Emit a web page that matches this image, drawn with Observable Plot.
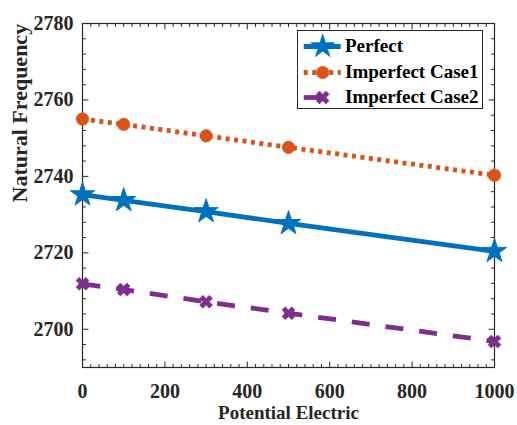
<!DOCTYPE html>
<html><head><meta charset="utf-8">
<script src="https://cdn.jsdelivr.net/npm/d3@7"></script>
<script src="https://cdn.jsdelivr.net/npm/@observablehq/plot@0.6"></script>
<style>
body{margin:0;background:#fff}
#wrap{position:relative;width:517px;height:425px;font-family:"Liberation Serif","Times New Roman",serif;font-weight:bold}
#legend{position:absolute;left:297px;top:30px;width:186px;height:79px;border:1px solid #262626;background:#fff;box-sizing:border-box}
#legend .row{position:absolute;left:0;height:26px;display:flex;align-items:center}
#legend .lab{position:absolute;left:47px;font-size:19px;color:#000;white-space:nowrap;line-height:26px}
</style></head><body><div id="wrap"><div id="legend"></div></div>
<script>
const potential = [0, 100, 300, 500, 1000];
const perfect = [2735.2, 2733.7, 2730.8, 2727.7, 2720.4];
const case1 = [2755.0, 2753.6, 2750.6, 2747.6, 2740.3];
const case2 = [2711.9, 2710.4, 2707.2, 2704.2, 2696.8];
const seriesNames = ["Perfect", "Imperfect Case1", "Imperfect Case2"];
const xTicks = [0, 200, 400, 600, 800, 1000];
const yTicks = [2700, 2720, 2740, 2760, 2780];
const xMinor = d3.range(0, 1001, 20).filter(v => !xTicks.includes(v));
const yMinor = d3.range(2692, 2781, 4).filter(v => !yTicks.includes(v));

const colors = ["#0072BD", "#D95319", "#7E2F8E"];
const seriesVals = [perfect, case1, case2];
const rows = [];
seriesVals.forEach((vals, s) => potential.forEach((x, i) => rows.push({series: seriesNames[s], x, y: vals[i]})));
const sel = name => rows.filter(r => r.series === name);

const tickShape = {draw(ctx, l) { ctx.moveTo(0, 0); ctx.lineTo(0, -l); }};
const tk = "#262626";
function ticks(vals, dim, len) {
  const out = [];
  const base = {anchor: "start", length: len, shape: tickShape, stroke: tk, strokeWidth: 1};
  if (dim === "x") {
    out.push(Plot.vector(vals, {...base, x: d => d, frameAnchor: "bottom", rotate: 0}));
    out.push(Plot.vector(vals, {...base, x: d => d, frameAnchor: "top", rotate: 180}));
  } else {
    out.push(Plot.vector(vals, {...base, y: d => d, frameAnchor: "left", rotate: 90}));
    out.push(Plot.vector(vals, {...base, y: d => d, frameAnchor: "right", rotate: -90}));
  }
  return out;
}
const lineStyle = {strokeWidth: 4.8, strokeLinecap: "butt", strokeLinejoin: "miter"};

const chart = Plot.plot({
  width: 517, height: 425,
  marginLeft: 82, marginRight: 23, marginTop: 23, marginBottom: 58,
  style: {fontFamily: "'Liberation Serif','Times New Roman',serif", fontWeight: "bold", background: "#fff", color: tk},
  x: {domain: [0, 1000]},
  y: {domain: [2690, 2780]},
  marks: [
    Plot.axisX(xTicks, {tickSize: 0, tickPadding: 16, fontSize: 20, label: null, tickFormat: d => String(d), fill: tk}),
    Plot.axisY(yTicks, {tickSize: 0, tickPadding: 9, fontSize: 20, label: null, tickFormat: d => String(d), fill: tk}),
    ...ticks(xTicks, "x", 5.5), ...ticks(xMinor, "x", 3),
    ...ticks(yTicks, "y", 5.5), ...ticks(yMinor, "y", 3),
    Plot.frame({stroke: tk, strokeWidth: 1.2}),
    Plot.text(["Potential Electric"], {frameAnchor: "bottom", dy: 51, fontSize: 19, fill: tk, text: d => d}),
    Plot.text(["Natural Frequency"], {frameAnchor: "left", dx: -63, dy: 7, rotate: -90, fontSize: 22, fill: tk, text: d => d}),
    Plot.line(sel(seriesNames[0]), {x: "x", y: "y", stroke: colors[0], ...lineStyle}),
    Plot.line(sel(seriesNames[1]), {x: "x", y: "y", stroke: colors[1], ...lineStyle, strokeDasharray: "4,4.5"}),
    Plot.line(sel(seriesNames[2]), {x: "x", y: "y", stroke: colors[2], ...lineStyle, strokeDasharray: "18,16"}),
    Plot.dot(sel(seriesNames[0]), {x: "x", y: "y", symbol: "star", r: 7.6, fill: colors[0], stroke: colors[0], strokeWidth: 1}),
    Plot.dot(sel(seriesNames[1]), {x: "x", y: "y", symbol: "circle", r: 6.3, fill: colors[1], stroke: colors[1], strokeWidth: 0.5}),
    Plot.dot(sel(seriesNames[2]), {x: "x", y: "y", symbol: "cross", rotate: 45, r: 5.8, fill: colors[2], stroke: colors[2], strokeWidth: 0.5})
  ]
});
const wrap = document.getElementById("wrap");
wrap.insertBefore(chart, wrap.firstChild);

// legend
const legend = document.getElementById("legend");
const symbols = ["star", "circle", "cross"];
const dashes = [null, "4,4.5", "22,15"];
const sizes = [7.6, 6.3, 5.8];
seriesNames.forEach((name, i) => {
  const top = 2 + i * 25.5;
  const sw = Plot.plot({
    width: 44, height: 26, margin: 0,
    x: {domain: [0, 1], axis: null}, y: {domain: [0, 1], axis: null},
    marks: [
      Plot.ruleY([0.5], {x1: 0.13, x2: 0.97, stroke: colors[i], strokeWidth: 4.8, strokeLinecap: "butt", strokeDasharray: dashes[i]}),
      Plot.dot([[0.55, 0.5]], {x: d => d[0], y: d => d[1], symbol: symbols[i], r: sizes[i], fill: colors[i], stroke: colors[i], strokeWidth: 0.5, rotate: i === 2 ? 45 : 0})
    ]
  });
  const row = document.createElement("div");
  row.className = "row"; row.style.top = top + "px";
  row.appendChild(sw);
  legend.appendChild(row);
  const lab = document.createElement("div");
  lab.className = "lab"; lab.style.top = top + "px"; lab.textContent = name;
  legend.appendChild(lab);
});
</script></body></html>
